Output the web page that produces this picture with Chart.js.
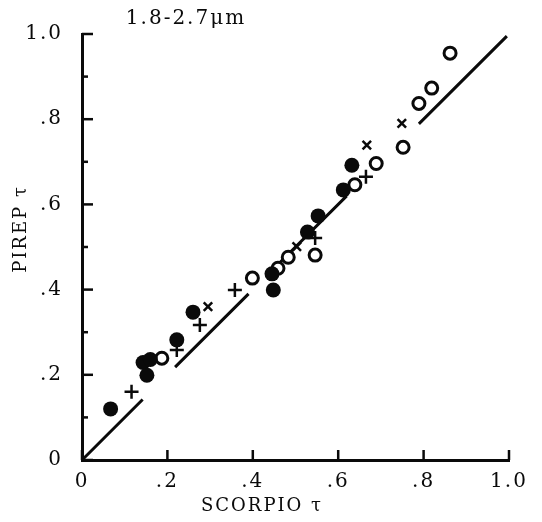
<!DOCTYPE html>
<html><head><meta charset="utf-8">
<script src="https://cdn.jsdelivr.net/npm/chart.js@4/dist/chart.umd.min.js"></script>
<style>html,body{margin:0;padding:0;background:#fff;}canvas{display:block;}</style>
</head><body>
<canvas id="c" width="542" height="522"></canvas>
<script>
const chartTitle = '1.8-2.7\u03bcm';
const xAxisTitle = 'SCORPIO \u03c4';
const yAxisTitle = 'PIREP \u03c4';
const xTickLabels = ['0', '.2', '.4', '.6', '.8', '1.0'];
const yTickLabels = ['0', '.2', '.4', '.6', '.8', '1.0'];

// filled circles
const filledX = [0.067, 0.143, 0.152, 0.160, 0.222, 0.260, 0.448, 0.445, 0.528, 0.553, 0.612, 0.632];
const filledY = [0.120, 0.229, 0.199, 0.236, 0.282, 0.347, 0.399, 0.437, 0.535, 0.573, 0.634, 0.692];
// open circles
const openX = [0.187, 0.399, 0.459, 0.483, 0.546, 0.639, 0.689, 0.752, 0.789, 0.819, 0.862];
const openY = [0.239, 0.427, 0.450, 0.476, 0.481, 0.646, 0.696, 0.734, 0.837, 0.873, 0.955];
// x marks
const xMarkX = [0.295, 0.503, 0.667, 0.749];
const xMarkY = [0.360, 0.501, 0.739, 0.790];
// plus marks
const plusX = [0.116, 0.222, 0.276, 0.358, 0.546, 0.665];
const plusY = [0.160, 0.258, 0.317, 0.399, 0.521, 0.665];
// 1:1 reference line, drawn in broken segments
const lineSegStart = [0.0, 0.218, 0.440, 0.789];
const lineSegEnd = [0.142, 0.390, 0.620, 0.995];

const FONT = "'DejaVu Serif', 'Liberation Serif', serif";
const INK = '#0a0a0a';

function pts(xs, ys) { return xs.map((x, i) => ({x: x, y: ys[i]})); }
const lineData = [];
lineSegStart.forEach((s, i) => {
  const e = lineSegEnd[i];
  lineData.push({x: s, y: s}, {x: e, y: e}, {x: e, y: null});
});

const spacingPlugin = {
  id: 'letterSpacing',
  beforeDraw(chart) { chart.ctx.letterSpacing = '2px'; }
};

const tickPlugin = {
  id: 'inwardTicks',
  afterDraw(chart) {
    const ctx = chart.ctx;
    const xs = chart.scales.x, ys = chart.scales.y;
    const left = chart.chartArea.left, bottom = chart.chartArea.bottom;
    ctx.save();
    ctx.strokeStyle = INK;
    ctx.lineWidth = 2.5;
    ys.ticks.forEach(t => {
      const py = ys.getPixelForValue(t.value);
      const major = Math.round(t.value * 10) % 2 === 0;
      ctx.beginPath();
      ctx.moveTo(left, py);
      ctx.lineTo(left + (major ? 11 : 6), py);
      ctx.stroke();
    });
    xs.ticks.forEach(t => {
      const px = xs.getPixelForValue(t.value);
      ctx.beginPath();
      ctx.moveTo(px, bottom);
      ctx.lineTo(px, bottom - 10);
      ctx.stroke();
    });
    // titles
    ctx.fillStyle = INK;
    ctx.letterSpacing = '2px';
    ctx.textAlign = 'center';
    ctx.textBaseline = 'middle';
    ctx.font = '20px ' + FONT;
    ctx.fillText(chartTitle, 186, 19);
    ctx.font = '18px ' + FONT;
    ctx.fillText(xAxisTitle, 262, 506);
    ctx.translate(21, 229);
    ctx.rotate(-Math.PI / 2);
    ctx.fillText(yAxisTitle, 0, 0);
    ctx.restore();
  }
};

new Chart(document.getElementById('c'), {
  type: 'scatter',
  data: {
    datasets: [
      {label: 'filled', data: pts(filledX, filledY), pointStyle: 'circle', pointRadius: 7.5,
       backgroundColor: INK, borderColor: INK, borderWidth: 0, order: 1},
      {label: 'open', data: pts(openX, openY), pointStyle: 'circle', pointRadius: 6,
       backgroundColor: '#fff', borderColor: INK, borderWidth: 3, order: 2},
      {label: 'x', data: pts(xMarkX, xMarkY), pointStyle: 'crossRot', pointRadius: 6,
       borderColor: INK, borderWidth: 2.5, order: 3},
      {label: 'plus', data: pts(plusX, plusY), pointStyle: 'cross', pointRadius: 7,
       borderColor: INK, borderWidth: 2.5, order: 4},
      {type: 'line', label: 'one-to-one', data: lineData, showLine: true, spanGaps: false,
       pointRadius: 0, borderColor: INK, borderWidth: 3, fill: false, order: 10}
    ]
  },
  options: {
    responsive: false,
    animation: false,
    devicePixelRatio: 1,
    layout: {padding: {top: 34, right: 33, left: 0, bottom: 0}},
    plugins: {legend: {display: false}, tooltip: {enabled: false}, title: {display: false}},
    scales: {
      x: {
        type: 'linear', min: 0, max: 1,
        grid: {display: false, drawTicks: false, tickLength: 0},
        border: {display: true, color: INK, width: 3},
        ticks: {stepSize: 0.2, autoSkip: false, maxRotation: 0, padding: 10, color: INK,
                font: {family: FONT, size: 20},
                callback: v => xTickLabels[Math.round(v * 5)]},
        afterFit: s => { s.height = 62; }
      },
      y: {
        type: 'linear', min: 0, max: 1,
        grid: {display: false, drawTicks: false, tickLength: 0},
        border: {display: true, color: INK, width: 3},
        ticks: {stepSize: 0.1, autoSkip: false, padding: 19, color: INK,
                font: {family: FONT, size: 20},
                callback: v => (Math.round(v * 10) % 2 === 0 ? yTickLabels[Math.round(v * 5)] : '')},
        afterFit: s => { s.width = 82; }
      }
    }
  },
  plugins: [spacingPlugin, tickPlugin]
});
</script>
</body></html>
